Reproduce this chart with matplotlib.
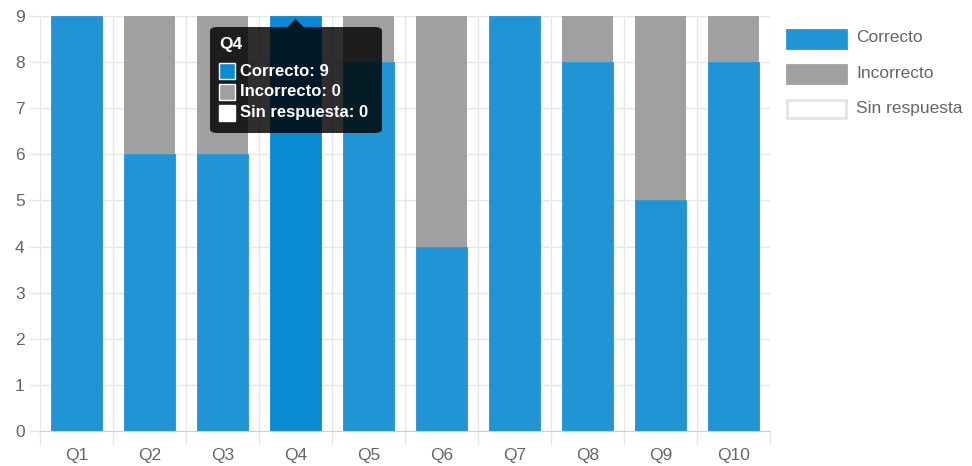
import matplotlib.pyplot as plt
import numpy as np
from matplotlib.patches import FancyBboxPatch, Polygon, Rectangle

plt.rcParams['font.family'] = ['Liberation Sans', 'DejaVu Sans']

questions = ['Q1', 'Q2', 'Q3', 'Q4', 'Q5', 'Q6', 'Q7', 'Q8', 'Q9', 'Q10']
correcto = [9, 6, 6, 9, 8, 4, 9, 8, 5, 8]
incorrecto = [0, 3, 3, 0, 1, 5, 0, 1, 4, 1]
sin_respuesta = [0, 0, 0, 0, 0, 0, 0, 0, 0, 0]
series_names = ['Correcto', 'Incorrecto', 'Sin respuesta']
hover_idx = 3

blue = '#2094d4'
blue_hover = '#0a8ad2'
gray = '#a0a0a0'
white = '#ffffff'
text_col = '#666666'
grid_col = '#e6e6e6'
fs = 12.5

W, H = 972, 466
fig = plt.figure(figsize=(W / 100, H / 100), dpi=100)
ax = fig.add_axes([40 / W, 1 - 431 / H, 730 / W, 415 / H])

x = np.arange(len(questions))
c = np.array(correcto)
inc = np.array(incorrecto)
sr = np.array(sin_respuesta)
cols = [blue_hover if i == hover_idx else blue for i in range(len(x))]
ax.bar(x, c, width=0.71, color=cols, edgecolor=cols, linewidth=0.6, zorder=3)
ax.bar(x, inc, bottom=c, width=0.71, color=gray, zorder=3)
ax.bar(x, sr, bottom=c + inc, width=0.71, color=white, zorder=3)

ax.set_xlim(-0.5, len(x) - 0.5)
ax.set_ylim(0, 9)
ax.set_yticks(range(0, 10))
ax.set_xticks(x)
ax.set_xticklabels(questions)
ax.set_xticks(np.arange(-0.5, len(x)), minor=True)
ax.tick_params(axis='x', which='major', length=0, pad=12, labelsize=fs, labelcolor=text_col)
ax.tick_params(axis='x', which='minor', length=10, color=grid_col, width=1)
ax.tick_params(axis='y', length=8, color=grid_col, width=1, pad=3, labelsize=fs, labelcolor=text_col)
ax.grid(axis='y', color=grid_col, linewidth=1, zorder=0)
ax.grid(axis='x', which='minor', color=grid_col, linewidth=1, zorder=0)
for s in ['top', 'right', 'left']:
    ax.spines[s].set_visible(False)
ax.spines['bottom'].set_color('#d0d0d0')
ax.spines['bottom'].set_zorder(4)

# legend
leg_cols = [(blue, blue), (gray, gray), (white, '#e4e4e4')]
for i, (name, (fc, ec)) in enumerate(zip(series_names, leg_cols)):
    y0 = 30 + i * 35
    fig.patches.append(Rectangle((787 / W, 1 - (y0 + 18) / H), 59 / W, 18 / H,
                                 transform=fig.transFigure, facecolor=fc, edgecolor=ec, linewidth=2))
    fig.text(856 / W, 1 - (y0 + 8) / H, name, color=text_col, fontsize=fs, va='center', ha='left')

# tooltip
tx0, ty0, tx1, ty1 = 210, 27, 382, 133
box = FancyBboxPatch((tx0 / W, 1 - ty1 / H), (tx1 - tx0) / W, (ty1 - ty0) / H,
                     boxstyle='round,pad=0,rounding_size=0.008', transform=fig.transFigure,
                     facecolor=(0, 0, 0, 0.82), edgecolor='none', zorder=10)
fig.patches.append(box)
cx = ax.transData.transform((hover_idx, 0))[0]
fig.patches.append(Polygon([((cx - 8) / W, 1 - ty0 / H), ((cx + 8) / W, 1 - ty0 / H), (cx / W, 1 - 19 / H)],
                           closed=True, transform=fig.transFigure, facecolor=(0, 0, 0, 0.82),
                           edgecolor='none', zorder=10))
fig.text(219 / W, 1 - 44 / H, questions[hover_idx], color='white', fontsize=fs, fontweight='bold',
         va='center', ha='left', zorder=11)
vals = [correcto[hover_idx], incorrecto[hover_idx], sin_respuesta[hover_idx]]
sw_cols = [blue_hover, gray, white]
for i, (name, v, fc) in enumerate(zip(series_names, vals, sw_cols)):
    yc = 71 + i * 21
    fig.patches.append(Rectangle((219 / W, 1 - (yc + 8) / H), 16 / W, 16 / H, transform=fig.transFigure,
                                 facecolor=fc, edgecolor='white', linewidth=1, zorder=11))
    fig.text(240 / W, 1 - yc / H, f'{name}: {v}', color='white', fontsize=12, fontweight='bold',
             va='center', ha='left', zorder=11)

fig.savefig('out.png', dpi=100)
